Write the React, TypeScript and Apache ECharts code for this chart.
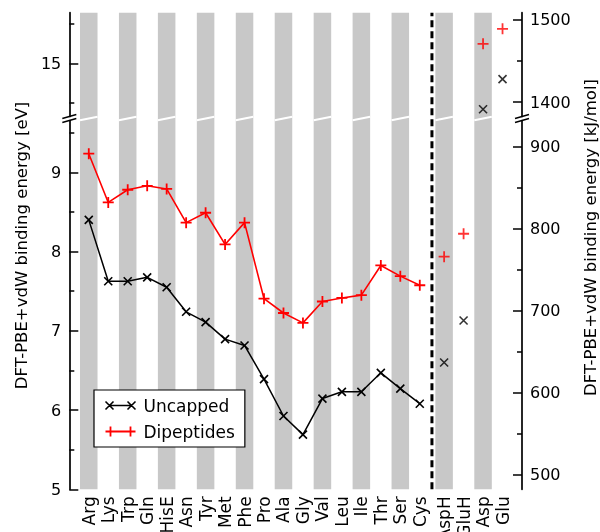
import React, { useEffect, useRef } from "react";
import * as echarts from "echarts";

// ---- data ----
const categories = ["Arg", "Lys", "Trp", "Gln", "HisE", "Asn", "Tyr", "Met", "Phe", "Pro", "Ala", "Gly", "Val", "Leu", "Ile", "Thr", "Ser", "Cys", "AspH", "GluH", "Asp", "Glu"];
const positions = [0, 1, 2, 3, 4, 5, 6, 7, 8, 9, 10, 11, 12, 13, 14, 15, 16, 17, 18.25, 19.25, 20.25, 21.25];
// binding energies in eV
const uncapped = [8.40, 7.625, 7.625, 7.675, 7.55, 7.24, 7.11, 6.895, 6.815, 6.39, 5.925, 5.69, 6.145, 6.23, 6.23, 6.47, 6.27, 6.08, 6.60, 7.13, 14.42, 14.80];
const dipeptides = [9.235, 8.62, 8.78, 8.83, 8.79, 8.365, 8.49, 8.09, 8.365, 7.405, 7.225, 7.10, 7.37, 7.415, 7.45, 7.825, 7.69, 7.575, 7.935, 8.225, 15.245, 15.435];
const connectedCount = 18; // Arg..Cys joined by lines
const lowerSingles = [18, 19]; // AspH, GluH
const upperSingles = [20, 21]; // Asp, Glu
const bandIndices = [0, 2, 4, 6, 8, 10, 12, 14, 16, 18, 20];
const separatorX = 17.625;
const EV_TO_KJ = 96.485;

const upperRange = [14.329, 15.638];
const lowerRange = [5, 9.654];
const upperLeftMajor = [15];
const upperLeftMinor = [14.5, 15.5];
const upperRightMajor = [1400, 1500];
const upperRightMinor = [1450];
const lowerLeftMajor = [5, 6, 7, 8, 9];
const lowerLeftMinor = [5.5, 6.5, 7.5, 8.5, 9.5];
const lowerRightMajor = [500, 600, 700, 800, 900];
const lowerRightMinor = [550, 650, 750, 850];

const FONT = "DejaVu Sans";
const X_PLUS = "path://M5,0L5,10M0,5L10,5";
const X_CROSS = "path://M0,0L10,10M10,0L0,10";
const LEGEND_CROSS = "path://M0,1L8,9M8,1L0,9M4,5L26,5M22,1L30,9M30,1L22,9M0,0M30,10";
const LEGEND_PLUS = "path://M0,5L10,5M5,0L5,10M5,5L25,5M20,5L30,5M25,0L25,10";

// layout (px)
const L = 69.3;
const R = 522;
const TOP = 12.7;
const UP_BOTTOM = 116.5;
const LOW_TOP = 120.5;
const BOTTOM = 489.3;
const W = 600;
const H = 532;

export default function App() {
  const ref = useRef<HTMLDivElement>(null);
  useEffect(() => {
    const chart = echarts.init(ref.current!, null, { renderer: "svg" });
    const gridW = R - L;
    const breakFrac = (BOTTOM - (UP_BOTTOM + LOW_TOP) / 2) / (BOTTOM - TOP);

    const yAx = (grid: number, pos: string, min: number, max: number, ticks: number[], labels: number[] | null, len: number, showLine: boolean) => ({
      gridIndex: grid,
      type: "value",
      position: pos,
      min,
      max,
      splitLine: { show: false },
      axisLine: { show: showLine, onZero: false, lineStyle: { color: "#000", width: 1.7 } },
      axisTick: { show: true, inside: true, length: len, customValues: ticks, lineStyle: { color: "#000", width: 1.5 } },
      axisLabel: labels
        ? { show: true, customValues: labels, margin: 8, fontSize: 16, fontFamily: FONT, color: "#000", formatter: (v: number) => String(v) }
        : { show: false },
    });

    const pts = (arr: number[], idx: number[]) => idx.map((i) => [positions[i], arr[i]]);
    const range = (n: number) => Array.from({ length: n }, (_, i) => i);

    const symStyle = (c: string, w: number) => ({ color: c, borderColor: c, borderWidth: w });

    const breakMarks: any[] = [];
    [L, R].forEach((ax) => {
      [UP_BOTTOM, LOW_TOP].forEach((y) => {
        breakMarks.push({
          type: "line",
          shape: { x1: ax - 7, y1: y + 2, x2: ax + 7, y2: y - 2 },
          style: { stroke: "#000", lineWidth: 1.5 },
          z: 10,
        });
      });
    });

    const gridBase = { outerBoundsMode: "none", containLabel: false };

    chart.setOption({
      animation: false,
      grid: [
        { ...gridBase, left: L, top: TOP, width: gridW, height: BOTTOM - TOP },
        { ...gridBase, left: L, top: TOP, width: gridW, height: UP_BOTTOM - TOP },
        { ...gridBase, left: L, top: LOW_TOP, width: gridW, height: BOTTOM - LOW_TOP },
      ],
      xAxis: [0, 1, 2].map((g) => ({
        gridIndex: g,
        type: "value",
        min: -1,
        max: 22.25,
        splitLine: { show: false },
        axisLine: { show: false },
        axisTick: { show: false },
        axisLabel:
          g === 2
            ? {
                show: true,
                customValues: positions,
                rotate: 90,
                margin: 7,
                fontSize: 17,
                fontFamily: FONT,
                color: "#000",
                formatter: (v: number) => categories[positions.indexOf(v)] ?? "",
              }
            : { show: false },
      })),
      yAxis: [
        { gridIndex: 0, type: "value", min: 0, max: 1, show: false },
        yAx(1, "left", upperRange[0], upperRange[1], upperLeftMajor, upperLeftMajor, 9, true),
        yAx(1, "left", upperRange[0], upperRange[1], upperLeftMinor, null, 5, false),
        yAx(1, "right", upperRange[0] * EV_TO_KJ, upperRange[1] * EV_TO_KJ, upperRightMajor, upperRightMajor, 9, true),
        yAx(1, "right", upperRange[0] * EV_TO_KJ, upperRange[1] * EV_TO_KJ, upperRightMinor, null, 5, false),
        yAx(2, "left", lowerRange[0], lowerRange[1], lowerLeftMajor, lowerLeftMajor, 9, true),
        yAx(2, "left", lowerRange[0], lowerRange[1], lowerLeftMinor, null, 5, false),
        yAx(2, "right", lowerRange[0] * EV_TO_KJ, lowerRange[1] * EV_TO_KJ, lowerRightMajor, lowerRightMajor, 9, true),
        yAx(2, "right", lowerRange[0] * EV_TO_KJ, lowerRange[1] * EV_TO_KJ, lowerRightMinor, null, 5, false),
      ],
      legend: {
        data: [
          { name: "Uncapped", icon: LEGEND_CROSS, itemStyle: { color: "none", borderColor: "#000", borderWidth: 1.6 } },
          { name: "Dipeptides", icon: LEGEND_PLUS, itemStyle: { color: "none", borderColor: "#ff0000", borderWidth: 1.8 } },
        ],
        orient: "vertical",
        left: 94,
        top: 390,
        padding: [7, 10, 7, 9],
        itemWidth: 30,
        itemHeight: 10,
        itemGap: 9,
        borderColor: "#000",
        borderWidth: 1.2,
        borderRadius: 0,
        backgroundColor: "#fff",
        textStyle: { fontSize: 17, fontFamily: FONT, color: "#000", padding: [0, 0, 0, 3] },
      },
      graphic: [
        {
          type: "text",
          x: 21.5,
          y: 245.5,
          rotation: Math.PI / 2,
          style: { text: "DFT-PBE+vdW binding energy [eV]", fontSize: 16.5, fontFamily: FONT, fill: "#000", align: "center", verticalAlign: "middle" },
        },
        {
          type: "text",
          x: 590,
          y: 237.5,
          rotation: Math.PI / 2,
          style: { text: "DFT-PBE+vdW binding energy [kJ/mol]", fontSize: 16.5, fontFamily: FONT, fill: "#000", align: "center", verticalAlign: "middle" },
        },
        ...breakMarks,
      ],
      series: [
        {
          type: "custom",
          xAxisIndex: 0,
          yAxisIndex: 0,
          z: 0,
          silent: true,
          data: bandIndices.map((i) => [positions[i]]),
          renderItem: (_p: any, api: any) => {
            const x = api.value(0);
            const a = api.coord([x - 0.45, 1]);
            const b = api.coord([x + 0.45, 0]);
            const m = api.coord([x, breakFrac]);
            return {
              type: "group",
              children: [
                { type: "rect", shape: { x: a[0], y: a[1], width: b[0] - a[0], height: b[1] - a[1] }, style: { fill: "#c8c8c8" } },
                { type: "line", shape: { x1: a[0], y1: m[1] + 1.8, x2: b[0], y2: m[1] - 1.8 }, style: { stroke: "#fff", lineWidth: 2 } },
              ],
            };
          },
        },
        {
          type: "line",
          xAxisIndex: 0,
          yAxisIndex: 0,
          z: 1,
          silent: true,
          symbol: "none",
          data: [[separatorX, 0], [separatorX, 1]],
          lineStyle: { color: "#000", width: 3, type: [7, 4] },
        },
        {
          name: "Uncapped",
          type: "line",
          xAxisIndex: 2,
          yAxisIndex: 5,
          data: pts(uncapped, range(connectedCount)),
          symbol: X_CROSS,
          symbolSize: 8,
          itemStyle: symStyle("#000", 1.6),
          lineStyle: { color: "#000", width: 1.5 },
          z: 3,
        },
        {
          name: "Dipeptides",
          type: "line",
          xAxisIndex: 2,
          yAxisIndex: 5,
          data: pts(dipeptides, range(connectedCount)),
          symbol: X_PLUS,
          symbolSize: 11,
          itemStyle: symStyle("#ff0000", 1.8),
          lineStyle: { color: "#ff0000", width: 1.6 },
          z: 3,
        },
        {
          name: "Uncapped",
          type: "scatter",
          xAxisIndex: 2,
          yAxisIndex: 5,
          data: pts(uncapped, lowerSingles),
          symbol: X_CROSS,
          symbolSize: 8,
          itemStyle: symStyle("#000", 1.6),
          z: 3,
        },
        {
          name: "Dipeptides",
          type: "scatter",
          xAxisIndex: 2,
          yAxisIndex: 5,
          data: pts(dipeptides, lowerSingles),
          symbol: X_PLUS,
          symbolSize: 11,
          itemStyle: symStyle("#ff0000", 1.8),
          z: 3,
        },
        {
          name: "Uncapped",
          type: "scatter",
          xAxisIndex: 1,
          yAxisIndex: 1,
          data: pts(uncapped, upperSingles),
          symbol: X_CROSS,
          symbolSize: 8,
          itemStyle: symStyle("#000", 1.6),
          z: 3,
        },
        {
          name: "Dipeptides",
          type: "scatter",
          xAxisIndex: 1,
          yAxisIndex: 1,
          data: pts(dipeptides, upperSingles),
          symbol: X_PLUS,
          symbolSize: 11,
          itemStyle: symStyle("#ff0000", 1.8),
          z: 3,
        },
      ],
    });
    return () => chart.dispose();
  }, []);
  return <div ref={ref} style={{ position: "fixed", left: 0, top: 0, width: W, height: H }} />;
}
